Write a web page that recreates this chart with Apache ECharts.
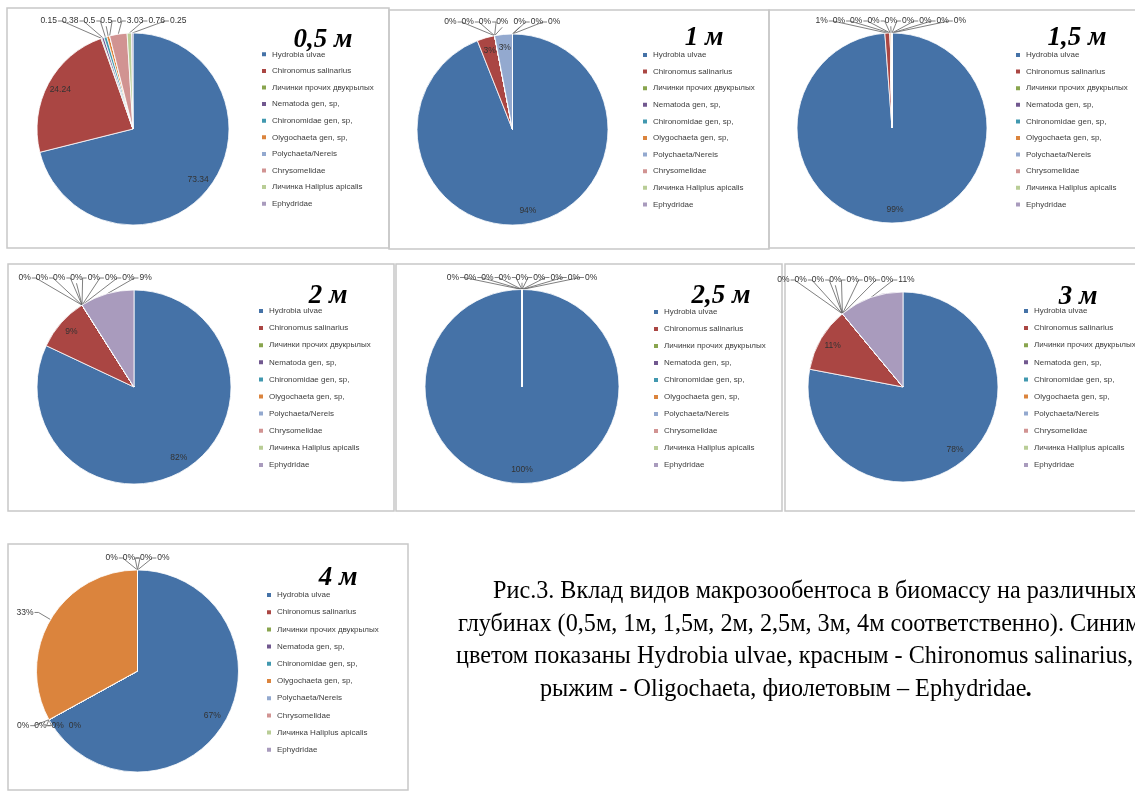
<!DOCTYPE html>
<html>
<head>
<meta charset="utf-8">
<script src="https://cdn.jsdelivr.net/npm/echarts@6/dist/echarts.min.js"></script>
<style>
  html, body { margin: 0; padding: 0; background: #ffffff; }
  #chart { width: 1135px; height: 793px; }
</style>
</head>
<body>
<div id="chart"></div>
<script>
// Taxa shown in every pie (legend order = slice order)
const species = [
  'Hydrobia ulvae',
  'Chironomus salinarius',
  'Личинки прочих двукрылых',
  'Nematoda gen, sp,',
  'Chironomidae gen, sp,',
  'Olygochaeta gen, sp,',
  'Polychaeta/Nereis',
  'Chrysomelidae',
  'Личинка Haliplus apicalis',
  'Ephydridae'
];

// Depth titles
const depthLabels = ['0,5 м', '1 м', '1,5 м', '2 м', '2,5 м', '3 м', '4 м'];

// Biomass contribution per depth
const biomass05 = [73.34, 24.24, 0.15, 0.38, 0.5, 0.5, 0, 3.03, 0.76, 0.25];
const share10 = [94, 3, 0, 0, 0, 0, 3, 0, 0, 0];
const share15 = [98.8, 0.9, 0, 0, 0, 0.3, 0, 0, 0, 0];
const share20 = [82, 9, 0, 0, 0, 0, 0, 0, 0, 9];
const share25 = [100, 0, 0, 0, 0, 0, 0, 0, 0, 0];
const share30 = [78, 11, 0, 0, 0, 0, 0, 0, 0, 11];
const share40 = [67, 0, 0, 0, 0, 33, 0, 0, 0, 0];

// Figure caption
const captionLines = [
  'Рис.3. Вклад видов макрозообентоса в биомассу на различных',
  'глубинах (0,5м, 1м, 1,5м, 2м, 2,5м, 3м, 4м соответственно). Синим',
  'цветом показаны Hydrobia ulvae, красным - Chironomus salinarius,',
  'рыжим - Oligochaeta, фиолетовым – Ephydridae'
];

const palette = ['#4572A7', '#AA4643', '#89A54E', '#71588F', '#4198AF',
                 '#DB843D', '#93A9CF', '#D19392', '#B9CD96', '#A99BBD'];

const LABEL_FONT = '"Liberation Sans", Arial, sans-serif';
const LABEL_SIZE = 8.5;
const LEGEND_SIZE = 8;

// Panel layout: frame, pie geometry, title and legend placement
const panels = [
  { values: biomass05, mode: 'value', inside: [0, 1], frame: [7, 8, 382, 240],
    center: [133, 129], r: 96, title: [323, 40], legend: [260, 49.3], gap: 6.6 },
  { values: share10, mode: 'percent', inside: [0, 1, 6], frame: [389, 10, 380, 239],
    center: [512.5, 129.5], r: 95.5, title: [704, 38], legend: [641, 50], gap: 6.6 },
  { values: share15, mode: 'percent', inside: [0], frame: [769, 10, 420, 238],
    center: [892, 128], r: 95, title: [1077, 38], legend: [1014, 50], gap: 6.6 },
  { values: share20, mode: 'percent', inside: [0, 1], frame: [8, 264, 386, 247],
    center: [134, 387], r: 97, title: [328, 296], legend: [257, 306], gap: 7.1 },
  { values: share25, mode: 'percent', inside: [0], frame: [396, 264, 386, 247],
    center: [522, 386.5], r: 97, title: [721, 296], legend: [652, 307], gap: 7.0 },
  { values: share30, mode: 'percent', inside: [0, 1], frame: [785, 264, 420, 247],
    center: [903, 387], r: 95, title: [1078, 297], legend: [1022, 306], gap: 7.1 },
  { values: share40, mode: 'percent', inside: [0], frame: [8, 544, 400, 246],
    center: [137.5, 671], r: 101, title: [338, 578], legend: [265, 590], gap: 7.2 }
];

const measureCtx = document.createElement('canvas').getContext('2d');
function textWidth(t) {
  measureCtx.font = LABEL_SIZE + 'px ' + LABEL_FONT;
  return measureCtx.measureText(t).width;
}

function labelText(p, i) {
  if (p.mode === 'value') return String(p.values[i]);
  const total = p.values.reduce((a, b) => a + b, 0);
  return Math.round(p.values[i] / total * 100) + '%';
}

// Label placement: big slices labelled inside, thin slices fanned out in a row
function computeLabelLayout(p) {
  const total = p.values.reduce((a, b) => a + b, 0);
  const cx = p.center[0], cy = p.center[1], r = p.r;
  let acc = 0;
  const items = p.values.map((v, i) => {
    const a0 = acc / total * 2 * Math.PI;
    acc += v;
    const a1 = acc / total * 2 * Math.PI;
    const mid = (a0 + a1) / 2;
    const text = labelText(p, i);
    return { i, s: Math.sin(mid), c: Math.cos(mid), text, w: textWidth(text), h: LABEL_SIZE + 2 };
  });
  const out = [];
  const outside = [];
  items.forEach(it => {
    if (p.inside.includes(it.i)) {
      out[it.i] = { x: cx + 0.86 * r * it.s, y: cy - 0.86 * r * it.c, align: 'center', verticalAlign: 'middle' };
    } else {
      it.ax = cx + r * it.s;
      it.ay = cy - r * it.c;
      outside.push(it);
    }
  });
  const groups = [];
  outside.forEach(it => {
    const g = groups[groups.length - 1];
    const prev = g && g[g.length - 1];
    if (prev && Math.hypot(it.ax - prev.ax, it.ay - prev.ay) < 40) g.push(it);
    else groups.push([it]);
  });
  groups.forEach(g => {
    if (g.length === 1) {
      const it = g[0];
      const lx = cx + (r + 14) * it.s, ly = cy - (r + 14) * it.c;
      const left = it.s < 0;
      const ex = lx + (left ? -4 : 4);
      out[it.i] = { x: ex + (left ? -1 : 1), y: ly, align: left ? 'right' : 'left', verticalAlign: 'middle',
        labelLinePoints: [[it.ax, it.ay], [lx, ly], [ex, ly]] };
      return;
    }
    const gap = 5;
    const W = g.reduce((a, it) => a + it.w, 0) + gap * (g.length - 1);
    const mx = g.reduce((a, it) => a + it.ax, 0) / g.length;
    const my = g.reduce((a, it) => a + it.ay, 0) / g.length;
    const top = my < cy - 0.6 * r;
    const rowY = top ? cy - r - 12 : my + 6;
    let x = mx - W / 2;
    g.forEach(it => {
      const lc = x + it.w / 2;
      let pts;
      if (it.ax < x - 2) pts = [[it.ax, it.ay], [x - 5, rowY], [x - 1, rowY]];
      else if (it.ax > x + it.w + 2) pts = [[it.ax, it.ay], [x + it.w + 5, rowY], [x + it.w + 1, rowY]];
      else pts = [[it.ax, it.ay], [lc, rowY + (top ? it.h / 2 : -it.h / 2)]];
      out[it.i] = { x: lc, y: rowY, align: 'center', verticalAlign: 'middle', labelLinePoints: pts };
      x += it.w + gap;
    });
  });
  return out;
}

const layouts = panels.map(computeLabelLayout);

const series = panels.map((p, k) => ({
  type: 'pie',
  center: p.center,
  radius: p.r,
  startAngle: 90,
  clockwise: true,
  avoidLabelOverlap: false,
  minShowLabelAngle: 0,
  animation: false,
  emphasis: { disabled: true },
  itemStyle: { borderColor: '#ffffff', borderWidth: 0.8 },
  label: {
    show: true,
    fontFamily: LABEL_FONT,
    fontSize: LABEL_SIZE,
    color: '#333333',
    formatter: params => labelText(p, params.dataIndex)
  },
  labelLine: { show: true, lineStyle: { color: '#606060', width: 0.8 } },
  labelLayout: params => layouts[k][params.dataIndex],
  data: species.map((name, i) => ({
    name,
    value: p.values[i],
    label: { position: p.inside.includes(i) ? 'inside' : 'outside' },
    labelLine: { show: !p.inside.includes(i) }
  }))
}));

const legends = panels.map(p => ({
  orient: 'vertical',
  left: p.legend[0],
  top: p.legend[1],
  padding: 0,
  icon: 'rect',
  itemWidth: 6,
  itemHeight: 6,
  itemGap: p.gap,
  selectedMode: false,
  data: species,
  textStyle: { fontFamily: LABEL_FONT, fontSize: LEGEND_SIZE, color: '#404040', lineHeight: 10 }
}));

const graphics = [];
panels.forEach(p => {
  graphics.push({
    type: 'rect', silent: true,
    shape: { x: p.frame[0], y: p.frame[1], width: p.frame[2], height: p.frame[3] },
    style: { fill: 'none', stroke: '#c8c8c8', lineWidth: 1.5 }
  });
});
panels.forEach((p, k) => {
  graphics.push({
    type: 'text', silent: true, x: p.title[0], y: p.title[1],
    style: { text: depthLabels[k], font: 'italic bold 27px "Liberation Serif", serif',
             fill: '#000000', align: 'center', verticalAlign: 'middle' }
  });
});
const captionX = [493, 458, 456, 540];
const captionY = [592, 625, 657, 690];
const captionFont = '24.2px "Liberation Serif", serif';
captionLines.forEach((line, i) => {
  const last = i === captionLines.length - 1;
  graphics.push({
    type: 'text', silent: true, x: captionX[i], y: captionY[i],
    style: last ? {
      text: '{a|' + line + '}{b|.}',
      rich: { a: { font: captionFont, fill: '#000' }, b: { font: 'italic bold 24.2px "Liberation Serif", serif', fill: '#000' } },
      align: 'left', verticalAlign: 'middle'
    } : { text: line, font: captionFont, fill: '#000000', align: 'left', verticalAlign: 'middle' }
  });
});

const chart = echarts.init(document.getElementById('chart'), null, { renderer: 'canvas' });
chart.setOption({
  backgroundColor: '#ffffff',
  animation: false,
  color: palette,
  legend: legends,
  graphic: graphics,
  series: series
});
</script>
</body>
</html>
